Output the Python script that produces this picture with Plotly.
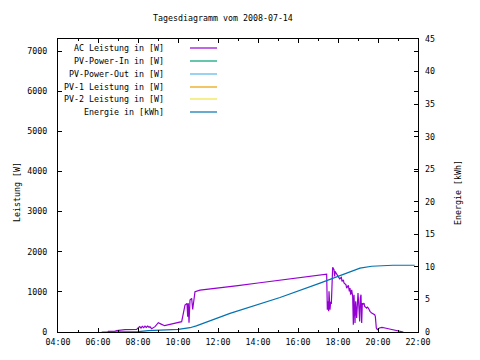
import plotly.graph_objects as go

DATE = "2008-07-14"

# AC Leistung in [W]
ac_time = ["06:30", "06:31", "06:50", "06:56", "07:21", "07:56", "08:01", "08:05", "08:09", "08:13",
           "08:17", "08:21", "08:25", "08:29", "08:33", "08:36", "08:41", "08:51", "09:01", "09:06",
           "09:11", "09:20", "09:36", "09:51", "10:11", "10:16", "10:21", "10:27", "10:29", "10:31",
           "10:33", "10:36", "10:41", "10:44", "10:51", "11:06", "12:00", "13:00", "14:00", "15:00",
           "16:00", "17:00", "17:26", "17:28", "17:30", "17:32", "17:33", "17:36", "17:38", "17:40",
           "17:44", "17:48", "17:50", "17:51", "17:56", "18:02", "18:05", "18:10", "18:12", "18:16",
           "18:18", "18:24", "18:26", "18:31", "18:34", "18:36", "18:38", "18:41", "18:44", "18:46",
           "18:48", "18:51", "18:53", "18:56", "18:58", "19:00", "19:02", "19:05", "19:07", "19:09",
           "19:11", "19:13", "19:14", "19:16", "19:18", "19:20", "19:26", "19:28", "19:31", "19:36",
           "19:41", "19:50", "19:52", "19:55", "19:58", "20:04", "20:12", "20:21", "20:36", "20:56",
           "21:06", "21:16"]
ac_watt = [0, 17, 17, 33, 58, 66, 108, 135, 100, 140,
           110, 145, 115, 150, 120, 130, 83, 133, 232, 200,
           190, 157, 190, 232, 257, 465, 672, 713, 381, 713,
           232, 796, 838, 560, 1003, 1045, 1090, 1155, 1220, 1285,
           1350, 1415, 1443, 555, 763, 515, 1012, 555, 755, 700,
           1610, 1550, 1385, 1510, 1443, 1385, 1327, 1360, 1260, 1300,
           1220, 1177, 1094, 1160, 1012, 1094, 929, 1052, 887, 182,
           929, 224, 763, 348, 846, 971, 721, 265, 846, 929,
           224, 721, 680, 700, 721, 639, 597, 620, 597, 514,
           472, 431, 390, 100, 58, 100, 116, 100, 75, 50,
           33, 0]

# Energie in [kWh]
en_time = ["06:11", "08:01", "08:31", "09:00", "10:01", "10:36", "10:55", "12:36", "15:06", "17:06",
           "18:02", "18:26", "18:46", "19:06", "19:41", "20:45", "21:50"]
en_kwh = [0.0, 0.05, 0.2, 0.25, 0.41, 0.66, 0.95, 2.86, 5.3, 7.5,
          8.53, 9.03, 9.4, 9.8, 10.1, 10.25, 10.25]

series_names = ["AC Leistung in [W]", "PV-Power-In in [W]", "PV-Power-Out in [W]",
                "PV-1 Leistung in [W]", "PV-2 Leistung in [W]", "Energie in [kWh]"]
series_colors = ["#9400D3", "#009E73", "#56B4E9", "#E69F00", "#F0E442", "#0072B2"]

y_ticks = [0, 1000, 2000, 3000, 4000, 5000, 6000, 7000]
y2_ticks = [0, 5, 10, 15, 20, 25, 30, 35, 40, 45]

FONT = "DejaVu Sans Mono"
FS = 8.3
W, H = 480, 360
L, R, T, B = 58, 418, 39, 332


def ts(hm):
    return f"{DATE} {hm}"


def px(x):
    return (x - L) / (R - L)


def py(y):
    return (B - y) / (B - T)


fig = go.Figure()
fig.add_trace(go.Scatter(x=[ts(t) for t in ac_time], y=ac_watt, mode="lines",
                         line=dict(color=series_colors[0], width=1.2), name=series_names[0],
                         showlegend=False))
for i in range(1, 5):
    fig.add_trace(go.Scatter(x=[], y=[], mode="lines", line=dict(color=series_colors[i], width=1.2),
                             name=series_names[i], showlegend=False))
fig.add_trace(go.Scatter(x=[ts(t) for t in en_time], y=en_kwh, mode="lines", yaxis="y2",
                         line=dict(color=series_colors[5], width=1.2),
                         name=series_names[5], showlegend=False))

tickfont = dict(family=FONT, size=FS, color="black")

fig.update_layout(
    width=W, height=H,
    margin=dict(l=L, r=W - R, t=T, b=H - B, autoexpand=False),
    paper_bgcolor="white", plot_bgcolor="white",
    showlegend=False,
    xaxis=dict(type="date", range=[ts("04:00"), ts("22:00")], dtick=7200000,
               tick0=ts("04:00"), tickformat="%H:%M", ticks="inside", ticklen=4,
               tickcolor="black", showline=True, linecolor="black", linewidth=1,
               mirror="ticks", showgrid=False, zeroline=False, tickfont=tickfont,
               automargin=False, ticklabelstandoff=2,
               minor=dict(dtick=3600000, ticks="inside", ticklen=2, tickcolor="black",
                          showgrid=False)),
    yaxis=dict(range=[0, 7300], tickvals=y_ticks, ticks="inside", ticklen=4,
               tickcolor="black", showline=True, linecolor="black", linewidth=1,
               mirror="ticks", showgrid=False, zeroline=False, tickfont=tickfont,
               ticklabelstandoff=8, automargin=False),
    yaxis2=dict(range=[0, 45], tickvals=y2_ticks, overlaying="y", side="right",
                ticks="inside", ticklen=4, tickcolor="black", showline=False,
                showgrid=False, zeroline=False, tickfont=tickfont, ticklabelstandoff=6,
                automargin=False),
)

txt = dict(family=FONT, size=FS, color="black")
ann = [
    dict(text="Tagesdiagramm vom 2008-07-14", x=px(223), y=py(18), xref="paper", yref="paper",
         xanchor="center", yanchor="middle", showarrow=False, font=txt),
    dict(text="Leistung [W]", x=px(17), y=py(192), xref="paper", yref="paper", textangle=-90,
         xanchor="center", yanchor="middle", showarrow=False, font=txt),
    dict(text="Energie [kWh]", x=px(458), y=py(193), xref="paper", yref="paper", textangle=-90,
         xanchor="center", yanchor="middle", showarrow=False, font=txt),
]
shapes = []
row_y = [48, 61, 74, 87, 99, 112]
for name, color, ry in zip(series_names, series_colors, row_y):
    ann.append(dict(text=name, x=px(166), y=py(ry), xref="paper", yref="paper",
                    xanchor="right", yanchor="middle", showarrow=False, font=txt))
    shapes.append(dict(type="line", xref="paper", yref="paper", x0=px(190), x1=px(217),
                       y0=py(ry), y1=py(ry), line=dict(color=color, width=1.2)))
fig.update_layout(annotations=ann, shapes=shapes)

fig.write_html("out.html", config={"displayModeBar": False},
               post_script="document.body.style.margin='0';")
